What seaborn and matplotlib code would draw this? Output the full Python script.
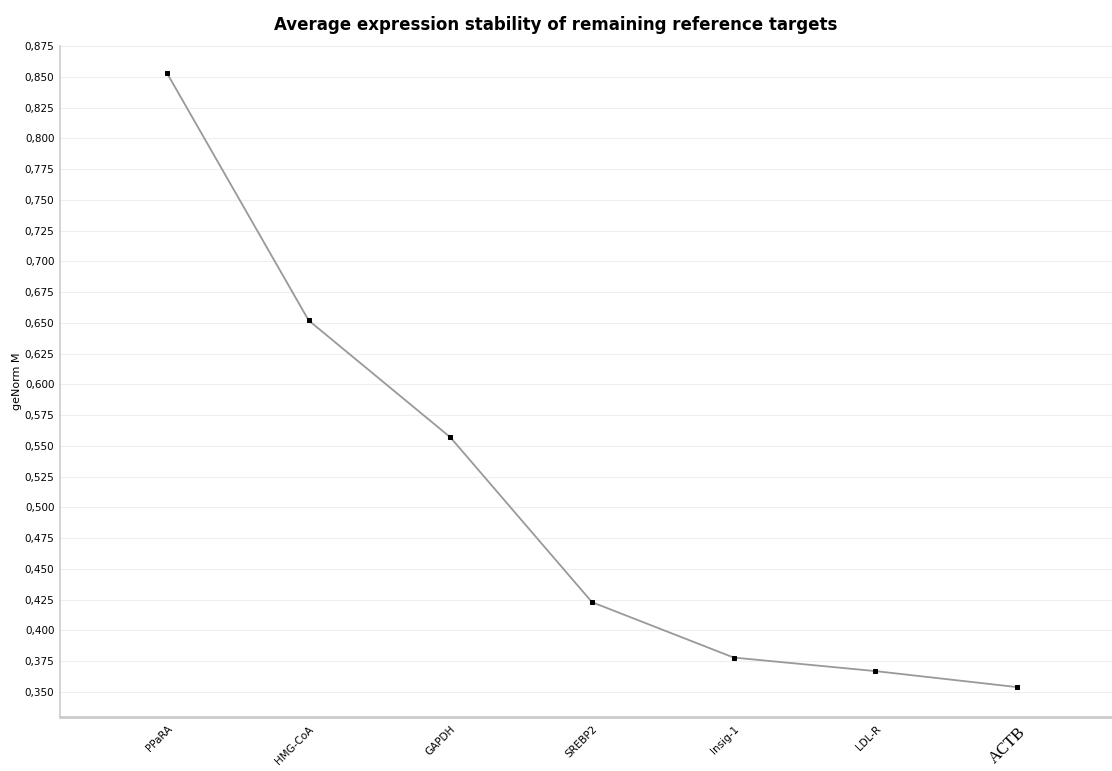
import matplotlib
matplotlib.use("Agg")
import matplotlib.pyplot as plt
import seaborn as sns
import numpy as np
import pandas as pd
from matplotlib.ticker import FuncFormatter, MultipleLocator

genes = ["PPaRA", "HMG-CoA", "GAPDH", "SREBP2", "Insig-1", "LDL-R", "ACTB"]
m_values = [0.853, 0.652, 0.557, 0.423, 0.378, 0.367, 0.354]

sns.set_theme(style="white")
plt.rcParams['font.family'] = ['DejaVu Sans']
plt.rcParams['text.color'] = 'black'
plt.rcParams['xtick.color'] = 'black'
plt.rcParams['ytick.color'] = 'black'
plt.rcParams['axes.labelcolor'] = 'black'

df = pd.DataFrame({"idx": np.arange(len(genes)), "M": m_values})

fig = plt.figure(figsize=(11.12, 7.71), dpi=100)
ax = fig.add_axes([60/1112, 1-717/771, 1-60/1112, (717-46)/771])

sns.lineplot(data=df, x="idx", y="M", ax=ax, color="#999999", linewidth=1.3,
             marker="s", markersize=3.5, markerfacecolor="black",
             markeredgecolor="black")

ax.set_xlim(-0.755, 6.67)
ax.set_ylim(0.3297, 0.875)
ax.yaxis.set_major_locator(MultipleLocator(0.025))
ax.yaxis.set_major_formatter(FuncFormatter(lambda v, p: f"{v:.3f}".replace(".", ",")))
ax.grid(axis="y", color="#eeeeee", linewidth=0.8)
ax.set_axisbelow(True)

ax.set_xticks(np.arange(len(genes)))
ax.set_xticklabels(genes, rotation=45, ha="right", rotation_mode="anchor", fontsize=7.5)
lbls = ax.get_xticklabels()
lbls[-1].set_fontfamily("Liberation Serif")
lbls[-1].set_fontsize(12)
ax.tick_params(axis="y", labelsize=7.5, length=0, pad=4)
ax.tick_params(axis="x", length=0, pad=5)

for s in ["top", "right"]:
    ax.spines[s].set_visible(False)
ax.spines["left"].set_color("#cccccc")
ax.spines["bottom"].set_color("#cccccc")
ax.spines["left"].set_linewidth(1.2)
ax.spines["bottom"].set_linewidth(2.0)

ax.set_xlabel("")
ax.set_ylabel("geNorm M", fontsize=8, labelpad=2)
fig.text(0.5, 1-25/771, "Average expression stability of remaining reference targets",
         ha="center", va="center", fontsize=12, fontweight="bold")

fig.savefig("out.png", dpi=100)
